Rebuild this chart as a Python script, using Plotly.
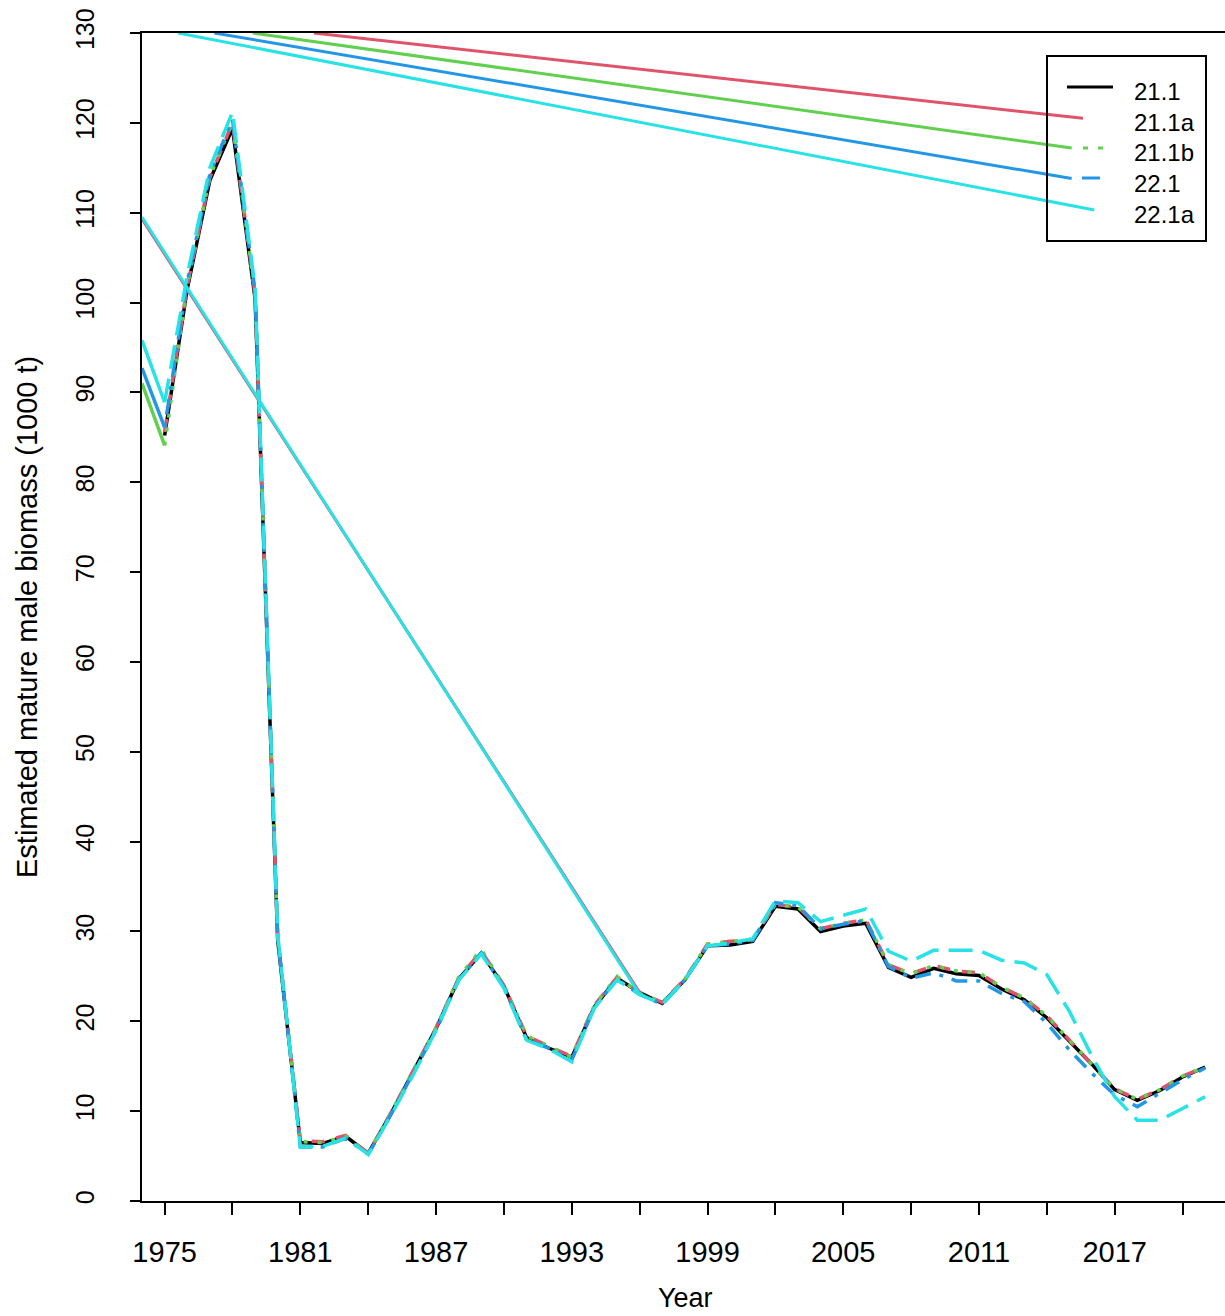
import plotly.graph_objects as go

# Model years
years = list(range(1974, 2022))

# Estimated mature male biomass (1000 t) by model scenario
mmb_21_1 = [None, 85.2, 101.5, 113.6, 119.4, 100.4, 29.0, 6.5, 6.4, 7.2, 5.3,
            9.7, 14.4, 19.2, 24.7, 27.6, 23.9, 18.2, 17.0, 16.0, 21.6, 24.8,
            23.2, 22.0, 24.6, 28.4, 28.5, 28.9, 32.8, 32.5, 30.0, 30.6, 30.9,
            26.0, 24.9, 25.9, 25.3, 25.1, 23.6, 22.4, 20.4, 17.8, 15.2, 12.4,
            11.2, 12.3, 13.8, 14.9]
mmb_21_1a = [None, 85.6, 101.8, 113.9, 120.0, 100.8, 29.3, 6.7, 6.6, 7.3, 5.3,
             9.8, 14.5, 19.3, 24.8, 27.8, 24.0, 18.4, 17.2, 16.1, 21.8, 24.9,
             23.2, 22.1, 24.7, 28.6, 28.9, 29.1, 33.0, 32.7, 30.3, 30.9, 31.3,
             26.3, 25.3, 26.2, 25.6, 25.4, 23.8, 22.6, 20.6, 17.9, 15.3, 12.5,
             11.3, 12.4, 13.9, 14.9]
mmb_21_1b = [91.0, 84.1, 101.9, 114.0, 120.1, 100.9, 29.4, 6.6, 6.5, 7.2, 5.3,
             9.8, 14.5, 19.3, 24.9, 28.0, 24.0, 18.4, 17.2, 16.0, 21.8, 25.0,
             23.1, 22.1, 24.7, 28.6, 28.9, 29.1, 33.0, 32.7, 30.3, 30.9, 31.3,
             26.3, 25.3, 26.2, 25.6, 25.4, 23.8, 22.6, 20.6, 17.9, 15.3, 12.5,
             11.3, 12.4, 13.9, 14.9]
mmb_22_1 = [92.7, 86.1, 102.3, 114.3, 120.4, 101.2, 29.4, 6.0, 6.0, 7.0, 5.2,
            9.6, 14.2, 19.0, 24.6, 27.6, 23.8, 18.0, 17.0, 15.7, 21.6, 24.7,
            23.0, 21.9, 24.6, 28.4, 28.6, 29.0, 33.2, 32.9, 30.3, 30.8, 31.2,
            26.1, 24.8, 25.4, 24.5, 24.5, 23.1, 22.2, 19.8, 16.8, 14.2, 11.8,
            10.5, 12.0, 13.5, 14.8]
mmb_22_1a = [95.8, 88.9, 103.0, 115.0, 121.2, 101.6, 29.6, 6.0, 6.1, 7.0, 5.2,
             9.5, 14.1, 19.0, 24.6, 27.5, 23.7, 17.9, 16.9, 15.5, 21.5, 24.6,
             23.0, 21.9, 24.6, 28.4, 28.7, 29.2, 33.4, 33.2, 31.1, 31.8, 32.5,
             27.8, 26.7, 27.9, 27.9, 27.9, 26.8, 26.5, 25.2, 21.1, 16.1, 11.6,
             9.0, 9.0, 10.3, 11.6]

# Straight connector segments drawn by the plotting routine (year, biomass)
upper_21_1a_x = [1981.6, 2015.6]
upper_21_1a_y = [130.0, 120.5]
upper_21_1b_x = [1978.9, 2015.1]
upper_21_1b_y = [130.0, 117.2]
upper_22_1_x = [1977.2, 2015.1]
upper_22_1_y = [130.0, 113.8]
upper_22_1a_x = [1975.6, 2016.1]
upper_22_1a_y = [130.0, 110.3]
diag_21_1a_x = [1974, 1996]
diag_21_1a_y = [109.3, 23.2]
diag_22_1a_x = [1974, 1996]
diag_22_1a_y = [109.5, 23.0]

scenario_labels = ["21.1", "21.1a", "21.1b", "22.1", "22.1a"]
x_tick_years = list(range(1975, 2021, 3))
x_tick_text = [str(y) if (y - 1975) % 6 == 0 else "" for y in x_tick_years]
y_tick_vals = list(range(0, 131, 10))

colors = ["#000000", "#DF536B", "#61D04F", "#2297E6", "#28E2E5"]
dashes = ["solid", "13px,12px", "4px,10px", "4px,9px,16px,9px", "24px,10px"]
FONT = "Liberation Sans, Arial, Helvetica, sans-serif"
LW = 3.5

fig = go.Figure()

series = [mmb_21_1, mmb_21_1a, mmb_21_1b, mmb_22_1, mmb_22_1a]
connectors = {
    1: [(upper_21_1a_x, upper_21_1a_y), (diag_21_1a_x, diag_21_1a_y)],
    2: [(upper_21_1b_x, upper_21_1b_y)],
    3: [(upper_22_1_x, upper_22_1_y)],
    4: [(upper_22_1a_x, upper_22_1a_y), (diag_22_1a_x, diag_22_1a_y)],
}

for i, vals in enumerate(series):
    # opening 1974-1975 step is drawn solid, the rest in the scenario style
    fig.add_trace(go.Scatter(
        x=years[:2], y=vals[:2], mode="lines",
        line=dict(color=colors[i], width=LW),
        showlegend=False, hoverinfo="skip",
    ))
    fig.add_trace(go.Scatter(
        x=years[1:], y=vals[1:], mode="lines", name=scenario_labels[i],
        line=dict(color=colors[i], width=LW, dash=dashes[i]),
        connectgaps=False, showlegend=False, hoverinfo="skip",
    ))
    for cx, cy in connectors.get(i, []):
        fig.add_trace(go.Scatter(
            x=cx, y=cy, mode="lines",
            line=dict(color=colors[i], width=3),
            showlegend=False, hoverinfo="skip",
        ))

# Plot area geometry (pixels)
W, H = 1225, 1316
L, R, T, B = 142, 0, 33, 115
pw, ph = W - L - R, H - T - B


def px(xp):
    return (xp - L) / pw


def py(yp):
    return (H - B - yp) / ph


shapes = [
    # legend frame
    dict(type="rect", xref="paper", yref="paper",
         x0=px(1047), x1=px(1206), y0=py(241), y1=py(56),
         line=dict(color="black", width=2), fillcolor="rgba(0,0,0,0)"),
    # legend line keys
    dict(type="line", xref="paper", yref="paper",
         x0=px(1067), x1=px(1113), y0=py(87), y1=py(87),
         line=dict(color=colors[0], width=3)),
    dict(type="line", xref="paper", yref="paper",
         x0=px(1083), x1=px(1104), y0=py(148), y1=py(148),
         line=dict(color=colors[2], width=3, dash="5px,10px")),
    dict(type="line", xref="paper", yref="paper",
         x0=px(1082), x1=px(1100), y0=py(178), y1=py(178),
         line=dict(color=colors[3], width=3)),
]

annotations = []
for lab, yrow in zip(scenario_labels, [91, 122, 153, 183, 214]):
    annotations.append(dict(
        text=lab, xref="paper", yref="paper", x=px(1132), y=py(yrow),
        xanchor="left", yanchor="middle", showarrow=False,
        font=dict(family=FONT, size=24, color="black"),
    ))
annotations.append(dict(
    text="Year", xref="paper", yref="paper", x=px(685), y=py(1298),
    xanchor="center", yanchor="middle", showarrow=False,
    font=dict(family=FONT, size=27, color="black"),
))
annotations.append(dict(
    text="Estimated mature male biomass (1000 t)", xref="paper", yref="paper",
    x=px(27), y=py(617), xanchor="center", yanchor="middle", textangle=-90,
    showarrow=False, font=dict(family=FONT, size=29, color="black"),
))

x_left = 1974
x_right = x_left + pw / 22.62

fig.update_layout(
    width=W, height=H,
    margin=dict(l=L, r=R, t=T, b=B, pad=0),
    paper_bgcolor="white", plot_bgcolor="white",
    shapes=shapes, annotations=annotations,
    xaxis=dict(
        range=[x_left, x_right], tickmode="array",
        tickvals=x_tick_years, ticktext=x_tick_text,
        ticks="outside", ticklen=12, tickwidth=2, tickcolor="black",
        showline=True, linewidth=2, linecolor="black", mirror=True,
        showgrid=False, zeroline=False, ticklabelstandoff=12,
        tickfont=dict(family=FONT, size=29, color="black"),
    ),
    yaxis=dict(
        range=[0, 130], tickmode="array", tickvals=y_tick_vals,
        ticks="outside", ticklen=10, tickwidth=2, tickcolor="black",
        showline=True, linewidth=2, linecolor="black",
        showgrid=False, zeroline=False, tickangle=-90,
        ticklabelstandoff=26,
        tickfont=dict(family=FONT, size=25, color="black"),
    ),
)

fig.write_html("out.html")
